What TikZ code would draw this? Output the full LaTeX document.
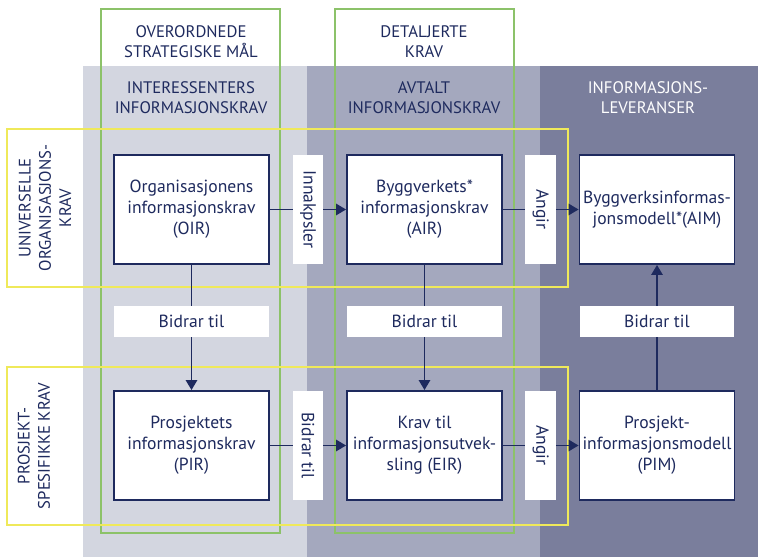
\documentclass[tikz,border=0pt]{standalone}
\usepackage{fontspec}
\setmainfont{PT Sans}
\usepackage{xcolor}
\usetikzlibrary{arrows.meta, positioning}
\definecolor{navy}{HTML}{1E2A5E}
\definecolor{bgone}{HTML}{D3D6E0}
\definecolor{bgtwo}{HTML}{A4A8BE}
\definecolor{bgthree}{HTML}{7A7E9C}
\definecolor{framegreen}{HTML}{8CC269}
\definecolor{frameyellow}{HTML}{EFE95A}
\tikzset{
    infobox/.style={rectangle, minimum width=3.1cm, minimum height=2.18cm, align=center, draw=navy, line width=1.1pt, fill=white, text=navy, inner sep=1pt, font=\fontsize{10}{12}\selectfont},
    vlabel/.style={rectangle, minimum width=2.18cm, minimum height=0.62cm, fill=white, text=navy, rotate=-90, inner sep=1pt, font=\fontsize{10}{12}\selectfont},
    hlabel/.style={rectangle, minimum width=3.1cm, minimum height=0.62cm, fill=white, text=navy, font=\fontsize{10}{12}\selectfont},
    arrow/.style={navy, line width=0.8pt, -{Triangle[length=2mm, width=2.3mm]}},
}

\begin{document}
\begin{tikzpicture}[
      x=0.02cm, y=-0.02cm,
      header/.style={align=center, text=navy, inner sep=0pt, font=\fontsize{9.5}{11.5}\selectfont},
      sidelabel/.style={header, rotate=90},
      greenframe/.style={draw=framegreen, line width=0.6pt},
      yellowframe/.style={draw=frameyellow, line width=0.6pt}
    ]
    \useasboundingbox (0,0) rectangle (758,557);
    % columns
    \fill[bgone] (83,66) rectangle (307,557);
    \fill[bgtwo] (307,66) rectangle (540,557);
    \fill[bgthree] (540,66) rectangle (758,557);
    % frames
    \draw[greenframe] (101,9) rectangle (280,533);
    \draw[greenframe] (335,9) rectangle (514,533);
    \draw[yellowframe] (7,129) rectangle (568,287);
    \draw[yellowframe] (7,367) rectangle (568,525);

    \node[header] (strat) at (191,42) {OVERORDNEDE\\STRATEGISKE MÅL};
    \node[header] (detal) at (424,42) {DETALJERTE\\KRAV};
    \node[header] (inter) at (191,98) {INTERESSENTERS\\INFORMASJONSKRAV};
    \node[header] (avtalt) at (424,98) {AVTALT\\INFORMASJONSKRAV};
    \node[header, text=white] (lever) at (648,98) {INFORMASJONS-\\LEVERANSER};
    \node[sidelabel] (univ) at (45,208) {UNIVERSELLE\\ORGANISASJONS-\\KRAV};
    \node[sidelabel] (prosj) at (34,446) {PROSJEKT-\\SPESIFIKKE KRAV};

    \node[infobox] (oir) at (191.5,209.5) {Organisasjonens\\informasjonskrav\\(OIR)};
    \node[infobox] (air) at (424.5,209.5) {Byggverkets*\\informasjonskrav\\(AIR)};
    \node[infobox] (aim) at (657,209.5) {Byggverksinformas-\\jonsmodell*(AIM)};
    \node[infobox] (pir) at (191.5,445.5) {Prosjektets\\informasjonskrav\\(PIR)};
    \node[infobox] (eir) at (424.5,445.5) {Krav til\\informasjonsutvek-\\sling (EIR)};
    \node[infobox] (pim) at (657,445.5) {Prosjekt-\\informasjonsmodell\\(PIM)};

    \draw[arrow] (oir) -- node[vlabel] {Innakpsler} (air);
    \draw[arrow] (air) -- node[vlabel] {Angir} (aim);
    \draw[arrow] (pir) -- node[vlabel] {Bidrar til} (eir);
    \draw[arrow] (eir) -- node[vlabel] {Angir} (pim);
    \draw[arrow] (oir) -- node[hlabel, pos=0.45] {Bidrar til} (pir);
    \draw[arrow] (air) -- node[hlabel, pos=0.45] {Bidrar til} (eir);
    \draw[arrow] (pim) -- node[hlabel, pos=0.55] {Bidrar til} (aim);
\end{tikzpicture}
\end{document}
